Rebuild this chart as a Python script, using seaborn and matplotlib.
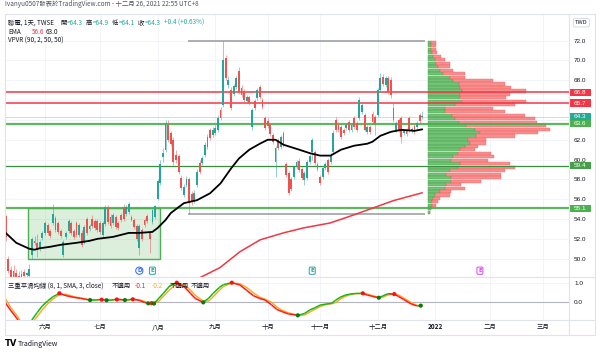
import numpy as np
import pandas as pd
import matplotlib
matplotlib.use("Agg")
import matplotlib.pyplot as plt
import matplotlib.transforms as mtransforms
from matplotlib.collections import LineCollection
from matplotlib.patches import Rectangle
from matplotlib.lines import Line2D
import seaborn as sns

sns.set_style("white")
plt.rcParams['font.family'] = ['Noto Sans CJK TC', 'DejaVu Sans']

#=======================
# daily candles 2021-05-10 .. 2021-12-24 (TWSE trading days)
opens = [55.8, 54.3, 50.0, 48.9, 48.8, 48.6, 48.3, 48.2, 48.7, 48.4,
         48.3, 50.4, 51.8, 51.6, 51.0, 52.1, 52.6, 53.4, 52.8, 53.6,
         54.1, 53.6, 52.8, 50.4, 52.2, 52.8, 53.6, 52.8, 53.6, 52.4,
         52.6, 51.6, 54.0, 53.0, 54.0, 53.8, 53.8, 53.6, 52.4, 53.5,
         55.2, 54.2, 53.6, 54.2, 53.6, 54.4, 55.2, 54.5, 54.7, 53.9,
         53.9, 53.3, 51.1, 52.9, 53.9, 54.3, 52.6, 53.7, 54.2, 56.0,
         57.6, 60.3, 61.0, 63.5, 62.7, 62.0, 60.5, 60.4, 58.1, 56.4,
         57.4, 58.0, 56.5, 55.8, 57.4, 59.7, 59.7, 60.5, 61.3, 63.0,
         62.5, 62.7, 63.0, 65.0, 65.5, 70.2, 67.5, 67.0, 66.6, 67.3,
         68.9, 67.2, 66.9, 65.9, 66.3, 63.3, 65.9, 66.2, 67.3, 66.0,
         64.2, 63.9, 63.5, 62.5, 59.8, 62.0, 61.3, 62.7, 59.6, 58.6,
         58.0, 58.2, 59.2, 59.9, 59.0, 57.9, 58.1, 59.8, 60.8, 60.8,
         59.6, 58.2, 58.2, 59.1, 60.0, 59.8, 60.8, 64.0, 63.5, 63.3,
         63.0, 63.2, 63.8, 63.0, 64.2, 63.7, 64.2, 64.8, 64.5, 62.8,
         63.3, 64.6, 64.3, 64.5, 67.0, 68.3, 67.5, 68.2, 68.0, 65.2,
         63.0, 64.0, 64.2, 62.7, 63.0, 64.2, 62.9, 63.4, 63.3, 64.5,
         64.3]
highs = [56.0, 54.4, 50.3, 49.3, 49.4, 49.0, 48.8, 48.9, 49.0, 48.7,
         49.5, 52.2, 52.3, 52.5, 51.9, 52.8, 53.8, 53.6, 53.0, 55.5,
         54.3, 53.8, 53.0, 51.9, 52.8, 54.0, 53.8, 53.0, 53.8, 53.6,
         52.9, 53.4, 54.2, 53.5, 54.4, 54.0, 54.0, 53.8, 53.8, 55.4,
         55.4, 54.5, 54.6, 54.4, 53.8, 54.6, 55.5, 55.4, 55.7, 54.4,
         54.1, 53.5, 53.5, 53.1, 54.1, 54.5, 52.8, 55.0, 55.4, 58.0,
         60.0, 61.2, 64.0, 64.0, 62.9, 62.3, 61.0, 60.6, 58.4, 57.5,
         58.3, 58.2, 56.8, 56.9, 59.0, 60.0, 60.4, 61.8, 62.6, 63.2,
         63.3, 63.5, 64.5, 65.3, 72.0, 70.6, 68.4, 67.3, 67.6, 68.4,
         69.3, 67.5, 67.1, 66.5, 66.5, 65.2, 66.1, 67.2, 67.5, 66.2,
         64.4, 64.2, 63.7, 62.7, 61.4, 62.2, 62.5, 62.9, 59.8, 58.8,
         58.2, 59.4, 60.0, 60.2, 59.2, 58.8, 60.0, 60.6, 62.2, 61.0,
         59.8, 58.4, 59.3, 59.8, 60.2, 60.7, 63.0, 64.3, 63.8, 63.5,
         63.2, 63.7, 64.0, 63.7, 64.4, 63.9, 66.3, 65.7, 64.7, 63.5,
         63.5, 64.9, 64.5, 67.2, 68.7, 68.6, 68.4, 68.4, 68.3, 65.7,
         63.9, 64.2, 64.4, 63.1, 63.2, 64.4, 63.3, 63.6, 63.9, 64.7,
         64.9]
lows = [54.6, 51.8, 48.6, 47.9, 48.0, 48.0, 47.8, 48.0, 48.1, 48.0,
        48.0, 50.0, 51.4, 50.2, 50.8, 51.9, 52.4, 52.4, 52.1, 53.4,
        52.7, 52.5, 52.1, 50.2, 52.0, 52.6, 52.4, 52.0, 52.2, 52.2,
        51.2, 51.5, 52.4, 52.8, 53.1, 52.9, 52.7, 52.5, 52.2, 53.3,
        53.5, 53.1, 53.4, 53.0, 52.9, 53.7, 53.8, 54.3, 54.5, 53.8,
        53.0, 51.8, 50.4, 51.8, 53.2, 53.6, 50.6, 53.5, 54.0, 55.9,
        57.4, 59.8, 60.8, 61.8, 61.4, 59.5, 59.7, 58.5, 56.9, 56.2,
        57.2, 54.5, 55.4, 55.6, 57.2, 58.5, 59.5, 60.3, 61.1, 62.0,
        62.3, 62.5, 62.8, 64.0, 65.3, 68.0, 67.2, 65.0, 66.4, 67.1,
        66.6, 66.3, 65.8, 65.7, 65.5, 63.0, 65.0, 66.0, 66.1, 65.1,
        63.0, 63.2, 62.4, 61.6, 58.2, 61.0, 61.1, 61.3, 58.2, 56.4,
        56.8, 58.0, 59.0, 58.7, 57.9, 57.4, 57.9, 59.6, 60.0, 59.5,
        58.8, 57.4, 58.0, 58.9, 58.5, 59.6, 60.6, 62.8, 62.8, 62.1,
        62.5, 63.0, 62.8, 62.8, 63.1, 62.8, 64.0, 64.6, 62.9, 62.6,
        62.6, 63.6, 62.5, 64.3, 66.8, 67.4, 67.3, 66.6, 66.2, 63.8,
        62.8, 62.8, 61.7, 62.5, 62.4, 62.8, 62.7, 62.6, 63.1, 63.7,
        64.1]
closes = [54.9, 52.2, 48.8, 48.1, 48.2, 48.2, 48.0, 48.5, 48.3, 48.6,
          49.0, 52.0, 51.6, 51.0, 51.7, 52.6, 53.6, 52.6, 52.3, 54.5,
          52.9, 52.7, 52.3, 51.7, 52.6, 53.8, 52.6, 52.2, 52.4, 53.4,
          51.4, 53.2, 52.6, 53.3, 53.3, 53.1, 52.9, 52.7, 53.6, 55.2,
          53.7, 53.3, 54.4, 53.2, 53.1, 53.9, 54.0, 55.2, 55.5, 54.2,
          53.2, 52.0, 53.3, 52.0, 53.4, 53.8, 52.0, 54.9, 55.3, 57.8,
          59.6, 60.7, 63.7, 62.0, 61.6, 59.8, 60.0, 58.7, 57.1, 57.2,
          58.0, 55.6, 55.7, 56.6, 58.7, 58.7, 60.2, 61.5, 62.3, 62.2,
          63.0, 63.2, 64.2, 64.2, 70.0, 68.2, 68.0, 65.2, 67.4, 68.2,
          66.8, 66.5, 66.0, 66.3, 65.7, 65.0, 65.2, 67.0, 66.3, 65.3,
          63.2, 63.4, 62.6, 61.8, 61.2, 61.2, 62.3, 61.5, 58.4, 56.6,
          57.0, 59.2, 59.8, 58.9, 58.1, 58.6, 59.8, 60.4, 62.0, 59.7,
          59.0, 57.6, 59.1, 59.6, 58.7, 60.5, 62.7, 63.0, 63.0, 62.3,
          62.7, 63.5, 63.0, 63.5, 63.3, 63.0, 66.0, 65.5, 63.0, 63.3,
          62.8, 63.8, 63.6, 67.0, 68.2, 67.6, 68.2, 66.8, 66.5, 64.0,
          63.7, 63.0, 62.3, 62.9, 62.6, 63.0, 63.1, 62.8, 63.7, 63.9,
          64.3]

# EMA readings (bar number counted from 2021-06-01)
ema_bar = [-16, -15, -11, -6, -4, -2, 2, 6, 12, 17, 20, 26, 32, 36, 41, 43, 46, 48,
           53, 58, 63, 67, 71, 74, 78, 82, 85, 88, 91, 97, 101, 105, 109, 113,
           118, 123, 125, 128, 132, 136, 141, 144]
ema_black = [52.8, 52.6, 51.6, 51.0, 50.9, 51.05, 51.2, 51.4, 51.6, 51.8, 52.0, 52.2,
             52.6, 52.6, 52.7, 53.1, 53.9, 54.6, 55.6, 55.9, 56.6, 57.6, 59.1, 60.1,
             61.0, 61.6, 62.0, 62.0, 61.5, 61.0, 60.65, 60.4, 60.4, 61.0, 61.4, 61.6,
             61.8, 62.4, 62.8, 63.0, 62.9, 63.05]
ema_red_bar = [50, 58.5, 66.8, 74.4, 82.1, 91, 98.6, 108.8, 117.7, 126.6, 132.9, 144]
ema_red = [47.0, 48.0, 49.1, 50.7, 51.9, 52.6, 53.1, 53.6, 54.4, 55.25, 55.85, 56.65]

# horizontal levels
red_levels = [66.8, 65.7]
green_levels = [63.6, 55.1]
green_dark_levels = [59.4]
last_price = 64.3

# consolidation box
box_bar = [-6.5, 44.0]
box_price = [50.0, 55.1]

# VPVR rows, top -> bottom (up / down volume)
vp_rows = 50
up_vol = [3.3, 3.3, 3.3, 4.0, 5.0, 6.7, 8.3, 10.0, 11.7, 15.0, 21.7, 25.0, 31.0, 31.7,
          34.3, 31.7, 31.7, 34.3, 26.7, 16.7, 16.7, 24.3, 26.7, 31.0, 38.3, 46.7, 51.7,
          47.7, 40.0, 41.7, 36.7, 31.7, 30.0, 25.0, 23.3, 31.7, 30.0, 21.7, 18.3, 23.3,
          23.3, 18.3, 16.7, 11.7, 6.7, 5.0, 4.3, 3.7, 2.7, 2.3]
down_vol = [4.3, 4.3, 4.3, 5.0, 8.3, 10.0, 13.3, 11.7, 13.3, 21.7, 15.0, 40.0, 45.7,
            51.7, 63.3, 50.0, 46.7, 63.3, 60.0, 48.3, 60.0, 72.3, 80.0, 77.7, 80.0, 75.0,
            58.3, 39.0, 18.3, 16.7, 13.3, 15.0, 33.3, 40.7, 36.7, 50.0, 56.7, 55.0, 55.0,
            50.0, 30.0, 15.0, 20.0, 11.7, 15.0, 6.7, 5.7, 4.7, 0.0, 0.0]
vp_first_bar = 55

# triple smoothed MA oscillator
osc_bar = [-16, -15, -13, -11, -9, -7, -5, -3, -1, 1, 3, 5.5, 8, 11, 13.5, 15.5, 17.2,
           19.5, 21.6, 23.5, 25.5, 27.4, 29, 30.5, 32, 33.5, 36, 38, 39.4, 40.7, 41.6,
           43.5, 45.2, 47.7, 50.3, 53.4, 55.5, 57.3, 60.4, 62.5, 64.2, 66.5, 68.1, 71.3,
           74.4, 77, 79.5, 82, 84, 86.5, 88.4, 90.5, 92.9, 96.5, 99, 101.1, 103, 105,
           107.5, 109.4, 111, 112.6, 114.5, 116.4, 118.5, 121.3, 123, 124.7, 127.4, 129,
           131, 133.3, 135, 136.8, 138.5, 140, 141.9, 143.4, 144]
osc_main = [0.15, -0.07, -0.45, -0.8, -1.2, -1.3, -0.93, -0.55, -0.2, 0.05, 0.27, 0.45,
            0.33, 0.24, 0.19, 0.14, 0.09, 0.11, 0.13, 0.08, 0.11, 0.14, 0.12, 0.09, 0.12,
            0.15, 0.08, -0.02, -0.08, -0.05, -0.08, 0.2, 0.45, 0.85, 1.0, 0.75, 0.45,
            0.19, -0.02, 0.2, 0.45, 0.75, 0.9, 1.0, 0.88, 0.6, 0.33, 0.18, 0.1, -0.15,
            -0.38, -0.5, -0.62, -0.69, -0.6, -0.41, -0.3, -0.16, -0.1, -0.07, 0.1, 0.24,
            0.35, 0.41, 0.44, 0.45, 0.36, 0.3, 0.22, 0.32, 0.43, 0.41, 0.28, 0.14, 0.0,
            -0.12, -0.2, -0.19, -0.13]
osc_signal = [0.3, 0.15, -0.3, -0.65, -1.05, -1.3, -1.1, -0.75, -0.4, -0.1, 0.15, 0.38,
              0.4, 0.28, 0.21, 0.16, 0.12, 0.1, 0.12, 0.11, 0.09, 0.12, 0.13, 0.11, 0.1,
              0.13, 0.12, 0.03, -0.04, -0.08, -0.08, 0.05, 0.3, 0.65, 0.95, 0.88, 0.62,
              0.35, 0.05, 0.05, 0.28, 0.6, 0.8, 0.98, 0.95, 0.75, 0.48, 0.25, 0.15, -0.02,
              -0.25, -0.43, -0.56, -0.68, -0.68, -0.52, -0.38, -0.24, -0.12, -0.09, -0.03,
              0.14, 0.28, 0.38, 0.43, 0.45, 0.42, 0.34, 0.24, 0.25, 0.37, 0.43, 0.36, 0.22,
              0.08, -0.05, -0.17, -0.19, -0.2]
dot_bar = [5.5, 17.2, 21.6, 23.5, 27.4, 30.5, 33.5, 39.4, 40.7, 41.6, 50.3, 60.4, 71.3,
           96.5, 121.3, 127.4, 133.3, 143.4]
dot_val = [0.45, 0.10, 0.12, 0.09, 0.13, 0.10, 0.14, -0.07, -0.06, -0.08, 1.0, -0.02,
           1.0, -0.69, 0.45, 0.22, 0.41, -0.19]
dot_up = [0, 1, 0, 1, 0, 1, 0, 1, 0, 1, 0, 1, 0, 1, 0, 1, 0, 1]

# event flags
event_bar = [36, 41, 102, 166]
event_txt = ['D', 'E', 'E', 'E']
event_col = ['#2962ff', '#26a69a', '#26a69a', '#e040fb']

# price scale tags (they cover the 64.0 / 66.0 scale labels)
tag_price = [66.8, 65.7, 64.3, 63.6, 59.4, 55.1]
tag_color = ['#f23645', '#f23645', '#22ab94', '#4caf50', '#43a047', '#4caf50']
price_ticks = [50, 52, 54, 56, 58, 60, 62, 64, 66, 68, 70, 72]
hidden_ticks = [64, 66]

month_names = {6: '六月', 7: '七月', 8: '八月', 9: '九月', 10: '十月', 11: '十一月',
               12: '十二月', 1: '2022', 2: '二月', 3: '三月'}
#=======================

TEAL = '#26a69a'
RED = '#ef5350'
LINE_RED = '#f23645'
GREEN = '#4caf50'
GREEN_D = '#388e3c'
TXT = '#131722'
GRID = '#f0f3fa'
BORDER = '#e0e3eb'
NUMFONT = 'Liberation Sans'

# trading calendar -> bar numbers
days = pd.bdate_range('2021-05-10', '2022-03-31')
days = days[~days.isin(pd.to_datetime(['2021-06-14', '2021-09-20', '2021-09-21',
                                       '2021-10-11', '2021-12-31']))]
first = list(days).index(pd.Timestamp('2021-06-01'))
bars = np.arange(len(days)) - first
month_start = pd.Series(bars, index=days).groupby([days.year, days.month]).first()
tick_bars, tick_lbls = [], []
for (yy, mm), b in month_start.items():
    if mm in month_names and not (yy == 2021 and mm < 6):
        tick_bars.append(b)
        tick_lbls.append(month_names[mm])

o = np.array(opens); h = np.array(highs); l = np.array(lows); c = np.array(closes)
x = bars[:len(o)]

W, H = 600, 354
fig = plt.figure(figsize=(6, 3.54), dpi=100)
ax = fig.add_axes([5 / W, 1 - 277 / H, 564 / W, 263 / H])
ax2 = fig.add_axes([5 / W, 1 - 320 / H, 564 / W, 43 / H], sharex=ax)
fig.patch.set_facecolor('white')

ax.set_xlim(-15.27, 200)
ax.set_ylim(48.15, 74.69)
ax2.set_ylim(-0.933, 1.295)

for a in (ax, ax2):
    for s in a.spines.values():
        s.set_visible(False)
    a.grid(True, color=GRID, lw=0.6, zorder=0)
    a.set_axisbelow(True)

ax.set_xticks(tick_bars)
ax.set_yticks(price_ticks)
ax.set_yticklabels(['' if t in hidden_ticks else f'{t:.1f}' for t in price_ticks],
                   family=NUMFONT)
ax.yaxis.tick_right()
ax.tick_params(axis='y', length=0, pad=3.6, labelsize=4.6, labelcolor=TXT)
ax.tick_params(axis='x', length=0, labelbottom=False)

# consolidation box
ax.add_patch(Rectangle((box_bar[0], box_price[0]), box_bar[1] - box_bar[0],
                       box_price[1] - box_price[0], facecolor=GREEN, alpha=0.2,
                       edgecolor='none', zorder=1))
ax.add_patch(Rectangle((box_bar[0], box_price[0]), box_bar[1] - box_bar[0],
                       box_price[1] - box_price[0], facecolor='none',
                       edgecolor=GREEN, lw=1.0, zorder=2))

# volume profile
hi = h[first + vp_first_bar:].max()
lo = l[first + vp_first_bar:].min()
row_h = (hi - lo) / vp_rows
row_c = hi - row_h * (np.arange(vp_rows) + 0.5)
vp_left = x[-1] + 2.2
vp_scale = 1 / 2.62
up = np.array(up_vol) * vp_scale
dn = np.array(down_vol) * vp_scale
ax.barh(row_c, up, left=vp_left, height=row_h * 0.9, color='#5cb860', alpha=0.85,
        edgecolor='#3d9a41', linewidth=0.3, zorder=1.5)
ax.barh(row_c, dn, left=vp_left + up, height=row_h * 0.9, color='#f77b7b', alpha=0.85,
        edgecolor='#f05a5a', linewidth=0.3, zorder=1.5)
ax.hlines([hi, lo], x[first + vp_first_bar] - 0.4, x[-1] + 1, color='#9598a1', lw=1.1,
          zorder=2)

# horizontal levels
for p in red_levels:
    ax.axhline(p, color=LINE_RED, lw=1.1, zorder=2.5)
for p in green_levels:
    ax.axhline(p, color=GREEN, lw=1.6, alpha=0.9, zorder=2.5)
for p in green_dark_levels:
    ax.axhline(p, color=GREEN_D, lw=0.9, zorder=2.5)
ax.axhline(last_price, color=TEAL, lw=0.7, alpha=0.3, zorder=2.5)

# candles
col = np.where(c >= o, TEAL, RED)
ax.vlines(x, l, h, colors=col, lw=0.5, alpha=0.7, zorder=3)
body = np.maximum(np.abs(c - o), 0.05)
ax.bar(x, body, bottom=np.minimum(o, c), width=0.7, color=col, linewidth=0, zorder=4)

# EMA lines
sns.lineplot(x=ema_red_bar, y=ema_red, ax=ax, color=LINE_RED, lw=1.1, zorder=5)
sns.lineplot(x=ema_bar, y=ema_black, ax=ax, color='black', lw=1.3, zorder=5)
ax.set_xlabel('')
ax.set_ylabel('')

# price tags on the scale
trans = mtransforms.blended_transform_factory(ax.transAxes, ax.transData)
tag_h = 7.2 / 9.91
for p, cc in zip(tag_price, tag_color):
    ax.add_patch(Rectangle((1.0 + 0.5 / 564, p - tag_h / 2), 21 / 564, tag_h,
                           transform=trans, facecolor=cc, edgecolor='none',
                           clip_on=False, zorder=9))
    ax.text(1.0 + 11 / 564, p, f'{p:.1f}', transform=trans, ha='center', va='center',
            fontsize=4.6, color='white', clip_on=False, zorder=10, family=NUMFONT)

# event flags
etrans = mtransforms.blended_transform_factory(ax.transData, ax.transAxes)
for b, t, cc in zip(event_bar, event_txt, event_col):
    style = 'circle,pad=0.2' if t == 'D' else 'round,pad=0.2'
    ax.text(b, 0.024, t, transform=etrans, ha='center', va='center', fontsize=4.0,
            color=cc, fontweight='bold', zorder=10, family='DejaVu Sans',
            bbox=dict(boxstyle=style, fc='white', ec=cc, lw=0.7))

# oscillator
ax2.axhline(0, color='#b2b5be', lw=0.8, zorder=1)
sns.lineplot(x=osc_bar, y=osc_signal, ax=ax2, color='#ffa726', lw=1.0, zorder=2)
pts = np.column_stack([osc_bar, osc_main])
segs = np.stack([pts[:-1], pts[1:]], axis=1)
seg_col = ['#16b816' if b[1] >= a[1] else '#ff1a1a' for a, b in zip(pts[:-1], pts[1:])]
ax2.add_collection(LineCollection(segs, colors=seg_col, lw=1.1, zorder=3))
ax2.scatter(dot_bar, dot_val, c=['#0b7a0b' if u else '#ff1010' for u in dot_up],
            s=9, zorder=4, linewidths=0)
ax2.set_xlabel('')
ax2.set_ylabel('')
ax2.set_yticks([0, 1])
ax2.set_yticklabels(['0.0', '1.0'], family=NUMFONT)
ax2.yaxis.tick_right()
ax2.tick_params(axis='y', length=0, pad=3.6, labelsize=4.6, labelcolor=TXT)
ax2.set_xticks(tick_bars)
ax2.set_xticklabels(tick_lbls)
ax2.tick_params(axis='x', length=0, pad=2.4, labelsize=4.6, labelcolor=TXT)
for tl in ax2.get_xticklabels():
    if tl.get_text() == '2022':
        tl.set_fontweight('bold')
ax.set_xlim(-15.27, 200)


def ftext(px, py, s, **kw):
    kw.setdefault('fontsize', 4.6)
    kw.setdefault('color', TXT)
    fig.text(px / W, 1 - py / H, s, ha='left', va='center', **kw)


# frame
def fline(x0, y0, x1, y1):
    fig.add_artist(Line2D([x0 / W, x1 / W], [1 - y0 / H, 1 - y1 / H],
                          transform=fig.transFigure, color=BORDER, lw=0.8))


fline(5, 14, 595, 14)
fline(5, 335, 595, 335)
fline(5, 14, 5, 335)
fline(595, 14, 595, 335)
fline(569, 14, 569, 335)
fline(5, 277, 595, 277)
fline(5, 320, 595, 320)

# texts
ftext(5, 4.3, 'Ivanyu0507發表於TradingView.com - 十二月 26, 2021 22:55 UTC+8',
      color='#50535e')
ftext(8, 23, '聯電, 1天, TWSE')
for lab, xl, val in [('開', 60, '=64.3'), ('高', 86, '=64.9'),
                     ('低', 112, '=64.1'), ('收', 138, '=64.3')]:
    ftext(xl, 23, lab)
    ftext(xl + 6.6, 23, val, color=TEAL)
ftext(164, 23, '+0.4 (+0.63%)', color=TEAL)
ftext(8, 32, 'EMA')
ftext(32, 32, '56.6', color=LINE_RED)
ftext(45.7, 32, '63.0')
ftext(8, 41, 'VPVR (90, 2, 50, 50)')
ftext(8, 286, '三重平滑均線 (8, 1, SMA, 3, close)')
ftext(112, 286, '不適用')
ftext(135, 286, '-0.1', color='#ff1a1a')
ftext(152, 286, '-0.2', color='#ffa726')
ftext(170, 286, '不適用')
ftext(191, 286, '不適用')
ftext(575, 22.7, 'TWD', fontsize=4.2,
      bbox=dict(boxstyle='round,pad=0.3', fc='white', ec='#d1d4dc', lw=0.6))
ftext(5, 344, 'TV', fontsize=6, fontweight='bold', color='black', family='DejaVu Sans')
ftext(18, 344, 'TradingView', fontsize=5, color='#131722')

fig.savefig('out.png', dpi=100)
